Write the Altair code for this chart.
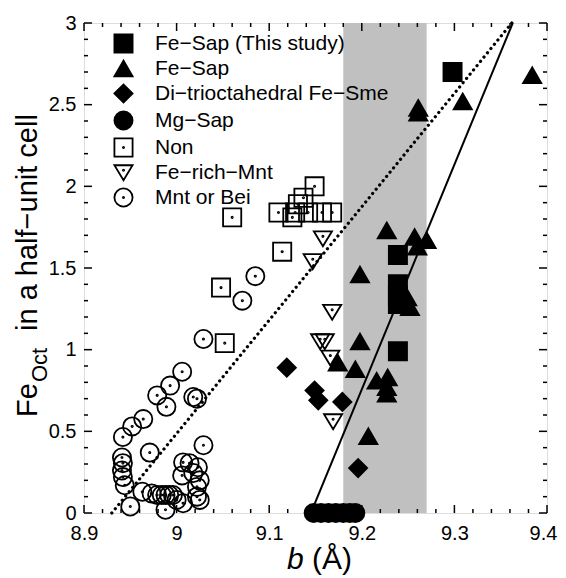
import altair as alt
import pandas as pd

W, H = 463, 490
FONT = "Liberation Sans"

groups = ["Fe−Sap (This study)", "Fe−Sap", "Di−trioctahedral Fe−Sme", "Mg−Sap",
          "Non", "Fe−rich−Mnt", "Mnt or Bei"]

# Fe-Sap (This study)
study_b = [9.298, 9.239, 9.239, 9.239, 9.239, 9.239]
study_fe = [2.70, 1.58, 1.40, 1.33, 1.28, 0.99]
# Fe-Sap
fesap_b = [9.384, 9.309, 9.261, 9.261, 9.227, 9.257, 9.270, 9.260, 9.198, 9.249,
           9.252, 9.198, 9.174, 9.193, 9.216, 9.228, 9.227, 9.227, 9.207]
fesap_fe = [2.68, 2.52, 2.48, 2.45, 1.73, 1.69, 1.67, 1.63, 1.46, 1.32,
            1.26, 1.05, 0.92, 0.88, 0.81, 0.83, 0.77, 0.73, 0.47]
# Di-trioctahedral Fe-Sme
dioct_b = [9.119, 9.149, 9.153, 9.179, 9.196]
dioct_fe = [0.89, 0.75, 0.69, 0.68, 0.275]
# Mg-Sap
mgsap_b = [9.148, 9.156, 9.164, 9.172, 9.180, 9.187, 9.193]
mgsap_fe = [0, 0, 0, 0, 0, 0, 0]
# Non
non_b = [9.149, 9.137, 9.131, 9.110, 9.128, 9.142, 9.157, 9.168, 9.125, 9.060,
         9.114, 9.048, 9.052]
non_fe = [2.00, 1.93, 1.89, 1.84, 1.84, 1.84, 1.84, 1.84, 1.81, 1.81,
          1.60, 1.38, 1.04]
# Fe-rich-Mnt
femnt_b = [9.158, 9.147, 9.168, 9.155, 9.160, 9.166, 9.169]
femnt_fe = [1.68, 1.54, 1.23, 1.05, 1.05, 0.95, 0.56]
# Mnt or Bei
mnt_b = [9.085, 9.071, 9.029, 9.006, 8.993, 8.979, 8.989, 9.018, 9.022, 8.964,
         8.952, 8.942, 8.971, 9.029, 8.941, 8.942, 8.941, 8.942, 8.944, 9.007,
         9.014, 9.023, 9.006, 9.018, 9.025, 9.022, 9.025, 9.007, 8.963, 8.973,
         8.979, 8.984, 8.988, 8.992, 8.996, 9.000, 8.950, 8.988, 9.022]
mnt_fe = [1.45, 1.30, 1.065, 0.865, 0.78, 0.72, 0.65, 0.71, 0.70, 0.575,
          0.53, 0.465, 0.37, 0.415, 0.34, 0.305, 0.26, 0.22, 0.17, 0.31,
          0.305, 0.28, 0.23, 0.245, 0.20, 0.16, 0.08, 0.06, 0.13, 0.12,
          0.11, 0.11, 0.11, 0.11, 0.11, 0.08, 0.04, 0.02, 0.10]

# reference lines and shaded band
solid_b = [9.145, 9.363]
solid_fe = [0, 3]
dotted_b = [8.93, 9.362]
dotted_fe = [0, 3]
band_b = [9.18, 9.27]

# tick positions
x_ticks = [8.9, 9.0, 9.1, 9.2, 9.3, 9.4]
x_minor = [8.92, 8.94, 8.96, 8.98, 9.02, 9.04, 9.06, 9.08, 9.12, 9.14, 9.16, 9.18,
           9.22, 9.24, 9.26, 9.28, 9.32, 9.34, 9.36, 9.38]
y_ticks = [0, 0.5, 1, 1.5, 2, 2.5, 3]
y_minor = [0.1, 0.2, 0.3, 0.4, 0.6, 0.7, 0.8, 0.9, 1.1, 1.2, 1.3, 1.4, 1.6, 1.7,
           1.8, 1.9, 2.1, 2.2, 2.3, 2.4, 2.6, 2.7, 2.8, 2.9]

series = [(study_b, study_fe), (fesap_b, fesap_fe), (dioct_b, dioct_fe),
          (mgsap_b, mgsap_fe), (non_b, non_fe), (femnt_b, femnt_fe), (mnt_b, mnt_fe)]
rows = []
for g, (bs, fs) in zip(groups, series):
    for b, f in zip(bs, fs):
        rows.append({"b": b, "fe": f, "group": g})
pts = pd.DataFrame(rows)

def dot(cy, r=0.07):
    return (f"M0,{cy - r}A{r},{r} 0 1,1 0,{cy + r}"
            f"A{r},{r} 0 1,1 0,{cy - r}Z")

open_square = "M-1,-1H1V1H-1Z" + dot(0)
open_tri_down = "M-1,-0.8L1,-0.8L0,0.85Z" + dot(-0.25)
open_circle = "M1,0A1,1 0 1,1 -1,0A1,1 0 1,1 1,0Z" + dot(0)
shapes = ["square", "triangle-up", "diamond", "circle", open_square, open_tri_down, open_circle]
fills = ["black", "black", "black", "black", "transparent", "transparent", "transparent"]
strokes = ["black"] * 7

XS = alt.Scale(domain=[8.9, 9.4], nice=False, zero=False)
YS = alt.Scale(domain=[0, 3], nice=False, zero=False)
X_AX = alt.Axis(values=x_ticks, format="~g", title=None, ticks=False, domain=False,
                grid=False, labelFont=FONT, labelFontSize=20, labelColor="black",
                labelPadding=10, labelFlush=False,
                labelOffset={"condition": {"test": "datum.value > 9.35", "value": -4},
                             "value": 0})
Y_AX = alt.Axis(values=y_ticks, format="~g", title=None, ticks=False, domain=False,
                grid=False, labelFont=FONT, labelFontSize=20, labelColor="black",
                labelPadding=8, labelFlush=False)

LEG = alt.Legend(title=None, orient="none", legendX=29, legendY=10,
                 labelFont=FONT, labelFontSize=21, labelColor="black",
                 symbolSize=330, symbolStrokeWidth=1.8, symbolStrokeColor="black",
                 rowPadding=0, labelOffset=21, padding=0, labelLimit=400,
                 symbolOpacity=1)

band = alt.Chart(pd.DataFrame({"b0": [band_b[0]], "b1": [band_b[1]]})).mark_rect(
    color="#c0c0c0").encode(
    x=alt.X("b0:Q", scale=XS, axis=X_AX), x2="b1:Q",
    y=alt.value(0), y2=alt.value(H))

dotted = alt.Chart(pd.DataFrame({"b": dotted_b, "fe": dotted_fe})).mark_line(
    color="black", strokeWidth=3.2, strokeDash=[0.1, 5.4], strokeCap="round").encode(
    x=alt.X("b:Q", scale=XS, axis=X_AX), y=alt.Y("fe:Q", scale=YS, axis=Y_AX))

solid = alt.Chart(pd.DataFrame({"b": solid_b, "fe": solid_fe})).mark_line(
    color="black", strokeWidth=2).encode(
    x=alt.X("b:Q", scale=XS, axis=X_AX), y=alt.Y("fe:Q", scale=YS, axis=Y_AX))

points = alt.Chart(pts).mark_point(size=330, strokeWidth=1.8,
                                    opacity=1, filled=False).encode(
    x=alt.X("b:Q", scale=XS, axis=X_AX),
    y=alt.Y("fe:Q", scale=YS, axis=Y_AX),
    shape=alt.Shape("group:N", scale=alt.Scale(domain=groups, range=shapes), legend=LEG),
    fill=alt.Fill("group:N", scale=alt.Scale(domain=groups, range=fills), legend=LEG),
    stroke=alt.Stroke("group:N", scale=alt.Scale(domain=groups, range=strokes), legend=LEG),
)

def xticks(vals, length):
    d = pd.DataFrame({"v": vals})
    bottom = alt.Chart(d).mark_rule(color="black", strokeWidth=1.5).encode(
        x=alt.X("v:Q", scale=XS, axis=X_AX), y=alt.value(H), y2=alt.value(H - length))
    top = alt.Chart(d).mark_rule(color="black", strokeWidth=1.5).encode(
        x=alt.X("v:Q", scale=XS, axis=X_AX), y=alt.value(0), y2=alt.value(length))
    return [bottom, top]

def yticks(vals, length):
    d = pd.DataFrame({"v": vals})
    left = alt.Chart(d).mark_rule(color="black", strokeWidth=1.5).encode(
        y=alt.Y("v:Q", scale=YS, axis=Y_AX), x=alt.value(0), x2=alt.value(length))
    right = alt.Chart(d).mark_rule(color="black", strokeWidth=1.5).encode(
        y=alt.Y("v:Q", scale=YS, axis=Y_AX), x=alt.value(W), x2=alt.value(W - length))
    return [left, right]

tick_layers = xticks(x_ticks, 8) + xticks(x_minor, 4) + yticks(y_ticks, 8) + yticks(y_minor, 4)

def label(txt, x, y, size, angle=0, italic=False):
    return alt.Chart(pd.DataFrame({"t": [txt]})).mark_text(
        font=FONT, fontSize=size, align="left", baseline="alphabetic", angle=angle,
        fontStyle="italic" if italic else "normal", color="black").encode(
        text="t:N", x=alt.value(x), y=alt.value(y))

titles = [
    label("b", 203, 546, 30, italic=True),
    label("(Å)", 228, 546, 30),
    label("Fe", -47, 394, 29, angle=270),
    label("Oct", -37, 359, 22, angle=270),
    label("in a half−unit cell", -47, 308, 29, angle=270),
]

chart = alt.layer(band, dotted, solid, points, *tick_layers, *titles).properties(
    width=W, height=H, padding={"left": 76, "top": 15, "right": 11, "bottom": 63},
    autosize=alt.AutoSizeParams(type="none"),
).configure_view(stroke="black", strokeWidth=2).configure(background="white")

chart.save("out.html", embed_options={"renderer": "svg", "actions": False})
